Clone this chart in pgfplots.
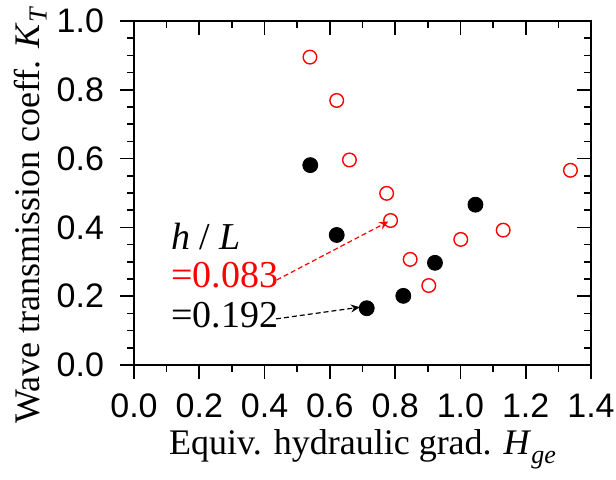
\documentclass[border=0pt]{standalone}
\usepackage{pgfplots}
\pgfplotsset{compat=1.18}
\usepackage{fontspec}
\setmainfont{Liberation Serif}
\setsansfont{Liberation Sans}
\usetikzlibrary{arrows.meta}

\begin{document}
\begin{tikzpicture}
\pgfplotsset{
  frame/.style={
    scale only axis, width=228.5pt, height=172pt,
    xmin=0, xmax=1.4, ymin=0, ymax=1.0,
    xtick distance=0.2, ytick distance=0.2,
    minor x tick num=1, minor y tick num=3,
    major tick length=7pt, minor tick length=3.5pt,
    every tick/.style={black, line width=0.8pt},
    axis line style={line width=0.8pt},
  },
}
% main axis: ticks outside on the left and bottom
\begin{axis}[frame,
  tick align=outside, xtick pos=left, ytick pos=left,
  /pgf/number format/assume math mode=true,
  ticklabel style={font=\sffamily\fontsize{17}{19}\selectfont,
    /pgf/number format/fixed, /pgf/number format/fixed zerofill,
    /pgf/number format/precision=1},
  xticklabel style={yshift=-4pt},
  yticklabel style={xshift=-4.5pt},
  xlabel={Equiv. hydraulic grad. \textit{H}\raisebox{-0.5ex}{\fontsize{13}{14}\selectfont\textit{ge}}},
  ylabel={Wave transmission coeff. \textit{K}\raisebox{-0.4ex}{\fontsize{13}{14}\selectfont\textit{T}}},
  label style={font=\fontsize{18}{21}\selectfont},
  xlabel style={at={(axis description cs:0.5,-0.2616)}, anchor=base},
  ylabel style={at={(axis description cs:-0.2057,0.436)}, anchor=base},
]
\addplot[only marks, mark=*, mark size=3.75pt, black] coordinates {
  (0.540,0.581) (0.621,0.378) (0.713,0.165)
  (0.825,0.201) (0.922,0.297) (1.046,0.466)
};
\addplot[only marks, mark=o, mark size=3.4pt, red, mark options={line width=0.7pt}] coordinates {
  (0.539,0.895) (0.621,0.769) (0.660,0.596) (0.774,0.499) (0.786,0.420)
  (0.846,0.307) (0.903,0.231) (1.001,0.365) (1.131,0.392) (1.337,0.566)
};
\node[anchor=base west, inner sep=0pt, font=\fontsize{19}{22}\selectfont]
  at (axis cs:0.113,0.337) {\textit{h} / \textit{L}};
\node[anchor=base west, inner sep=0pt, font=\fontsize{19}{22}\selectfont, red]
  at (axis cs:0.113,0.224) {=0.083};
\node[anchor=base west, inner sep=0pt, font=\fontsize{19}{22}\selectfont]
  at (axis cs:0.113,0.110) {=0.192};
\draw[red, line width=0.6pt, dash pattern=on 2.5pt off 1.5pt,
  -{Stealth[length=4.5pt,width=4pt]}] (axis cs:0.437,0.247) -- (axis cs:0.779,0.417);
\draw[black, line width=0.6pt, dash pattern=on 2.5pt off 1.5pt,
  -{Stealth[length=4.5pt,width=4pt]}] (axis cs:0.435,0.134) -- (axis cs:0.692,0.168);
\end{axis}
% mirrored ticks pointing inward on the top and right
\begin{axis}[frame,
  tick align=inside, xtick pos=right, ytick pos=right,
  xticklabels={}, yticklabels={},
]
\end{axis}
\pgfresetboundingbox
\path (-67pt,-57.5pt) rectangle (241pt,182.5pt);
\end{tikzpicture}
\end{document}
